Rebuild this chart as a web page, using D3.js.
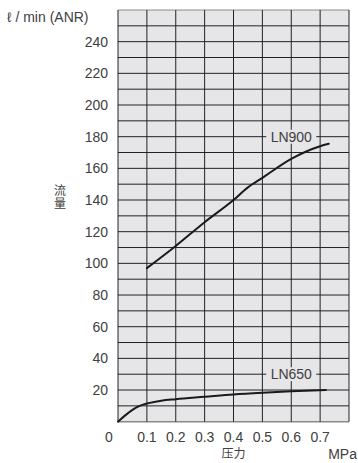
<!DOCTYPE html>
<html>
<head>
<meta charset="utf-8">
<script src="https://cdn.jsdelivr.net/npm/d3@7"></script>
<style>
  body { margin: 0; background: #fff; }
  text { font-family: "Liberation Sans", Arial, "Noto Sans CJK SC", sans-serif; fill: #404040; }
  .cjk { font-family: "Noto Sans CJK SC", sans-serif; }
</style>
</head>
<body>
<svg width="358" height="463"></svg>
<script>
// data (pressure MPa -> flow l/min ANR)
const ln900 = [
  [0.1, 97], [0.2, 111], [0.3, 126], [0.4, 140], [0.45, 148],
  [0.5, 154], [0.6, 166], [0.7, 174], [0.73, 175.5]
];
const ln650 = [
  [0, 0], [0.025, 4], [0.05, 7.5], [0.075, 10], [0.1, 11.5], [0.15, 13.3],
  [0.2, 14.2], [0.3, 15.7], [0.4, 17.2], [0.5, 18.3], [0.6, 19.2], [0.72, 20]
];
const xTicks = [0.1, 0.2, 0.3, 0.4, 0.5, 0.6, 0.7];
const yTicks = [20, 40, 60, 80, 100, 120, 140, 160, 180, 200, 220, 240];
const seriesLabels = [
  { name: "LN900", x: 0.6, y: 180 },
  { name: "LN650", x: 0.6, y: 30 }
];

const svg = d3.select("svg"),
  margin = { top: 10, right: 9, bottom: 41.3, left: 118 },
  width = +svg.attr("width") - margin.left - margin.right,
  height = +svg.attr("height") - margin.top - margin.bottom;

const x = d3.scaleLinear().domain([0, 0.8]).range([0, width]);
const y = d3.scaleLinear().domain([0, 260]).range([height, 0]);

const g = svg.append("g")
  .attr("transform", "translate(" + margin.left + "," + margin.top + ")");

// plot background
g.append("rect")
  .attr("width", width)
  .attr("height", height)
  .attr("fill", "#e6e6e8");

// grid: every 0.1 MPa and every 10 l/min
g.append("g")
  .selectAll("line")
  .data(d3.range(0, 27).map(d => d * 10))
  .join("line")
  .attr("x1", 0).attr("x2", width)
  .attr("y1", d => y(d)).attr("y2", d => y(d))
  .attr("stroke", d => (d === 0 || d === 260) ? "#8a8a8a" : "#222")
  .attr("stroke-width", d => d === 0 ? 1.6 : 1);

g.append("g")
  .selectAll("line")
  .data(d3.range(0, 9).map(d => d / 10))
  .join("line")
  .attr("x1", d => x(d)).attr("x2", d => x(d))
  .attr("y1", 0).attr("y2", height)
  .attr("stroke", "#222")
  .attr("stroke-width", 1);

// curves
const line = d3.line()
  .x(d => x(d[0]))
  .y(d => y(d[1]))
  .curve(d3.curveMonotoneX);

[ln900, ln650].forEach(s => {
  g.append("path")
    .datum(s)
    .attr("fill", "none")
    .attr("stroke", "#1a1a1a")
    .attr("stroke-width", 2)
    .attr("stroke-linecap", "round")
    .attr("d", line);
});

// series labels sitting on the grid
const lab = g.append("g").selectAll("g")
  .data(seriesLabels)
  .join("g")
  .attr("transform", d => `translate(${x(d.x)},${y(d.y)})`);
lab.append("rect")
  .attr("x", -25).attr("y", -7)
  .attr("width", 50).attr("height", 14)
  .attr("fill", "#e6e6e8");
lab.append("text")
  .attr("text-anchor", "middle")
  .attr("dy", "0.36em")
  .attr("font-size", 14)
  .text(d => d.name);

// y tick labels
g.append("g")
  .selectAll("text")
  .data(yTicks)
  .join("text")
  .attr("x", -10)
  .attr("y", d => y(d))
  .attr("dy", "0.36em")
  .attr("text-anchor", "end")
  .attr("font-size", 14)
  .text(d => d);

// x tick labels
g.append("g")
  .selectAll("text")
  .data(xTicks)
  .join("text")
  .attr("x", d => x(d))
  .attr("y", height + 15.5)
  .attr("dy", "0.36em")
  .attr("text-anchor", "middle")
  .attr("font-size", 14)
  .text(d => d3.format(".1f")(d));

// origin label, set apart to the left
g.append("text")
  .attr("x", -9)
  .attr("y", height + 15.5)
  .attr("dy", "0.36em")
  .attr("text-anchor", "middle")
  .attr("font-size", 14)
  .text("0");

// axis titles
svg.append("text")
  .attr("x", 7).attr("y", 17)
  .attr("dy", "0.36em")
  .attr("font-size", 14)
  .text("ℓ / min (ANR)");

// vertical title, set top to bottom
svg.append("text")
  .attr("class", "cjk")
  .attr("x", 60).attr("y", 197)
  .attr("text-anchor", "middle")
  .style("writing-mode", "vertical-rl")
  .style("text-orientation", "upright")
  .style("letter-spacing", "1px")
  .attr("font-size", 12)
  .text("流量");

svg.append("text")
  .attr("class", "cjk")
  .attr("x", margin.left + x(0.4)).attr("y", 454)
  .attr("dy", "0.36em")
  .attr("text-anchor", "middle")
  .attr("font-size", 12)
  .text("压力");

svg.append("text")
  .attr("x", 357).attr("y", 454)
  .attr("dy", "0.36em")
  .attr("text-anchor", "end")
  .attr("font-size", 14)
  .text("MPa");
</script>
</body>
</html>
